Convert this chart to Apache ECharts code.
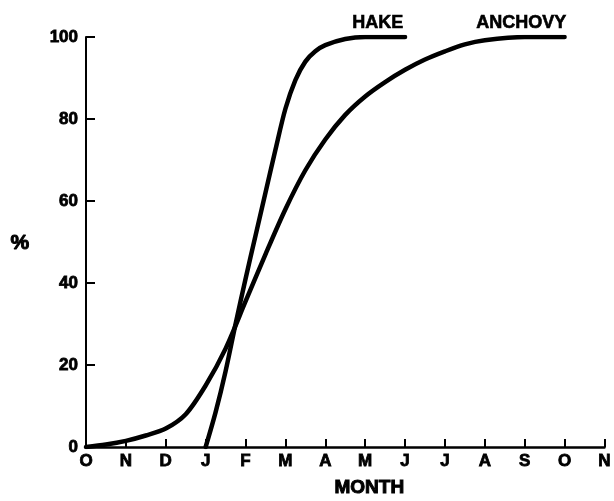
<!DOCTYPE html>
<html>
<head>
<meta charset="utf-8">
<script src="https://cdn.jsdelivr.net/npm/echarts@6/dist/echarts.min.js"></script>
<style>
  html, body { margin: 0; padding: 0; background: #fff; }
  #chart { width: 614px; height: 501px; }
</style>
</head>
<body>
<div id="chart"></div>
<script>
// Month ticks, starting in October (0) and running to the following November (13)
const monthLabels = ['O', 'N', 'D', 'J', 'F', 'M', 'A', 'M', 'J', 'J', 'A', 'S', 'O', 'N'];
const percentTicks = [0, 20, 40, 60, 80, 100];

// Cumulative percentage, hake (months since October)
const hakeMonth = [3.0, 3.25, 3.5, 3.75, 4.0, 4.25, 4.5, 4.75, 5.0, 5.25, 5.5, 5.75, 6.0, 6.5, 7.0, 8.0];
const hakePct   = [0,   8.5,  18.5, 30,  41,  51.5, 62,  72.5, 82.5, 89.5, 94, 96.5, 98, 99.5, 100, 100];

// Cumulative percentage, anchovy
const anchovyMonth = [0, 0.5, 1, 1.5, 2, 2.5, 3, 3.5, 4, 4.5, 5, 5.5, 6, 6.5, 7, 7.5, 8, 8.5, 9, 9.5, 10, 11, 12];
const anchovyPct   = [0, 0.6, 1.5, 2.8, 4.5, 8, 15, 24, 35.5, 47, 58, 67.5, 75, 81, 85.5, 89, 92, 94.5, 96.5, 98.2, 99.2, 100, 100];

const pairs = (xs, ys) => xs.map((x, i) => [x, ys[i]]);

const FONT = '"Liberation Sans", Arial, sans-serif';
const INK = '#000';

// shared lettering style: bold, slightly thickened with a thin outline
const lettering = (size) => ({
  color: INK,
  fontFamily: FONT,
  fontWeight: 'bold',
  fontSize: size,
  textBorderColor: INK,
  textBorderWidth: 0.8
});

const chart = echarts.init(document.getElementById('chart'), null, { renderer: 'canvas' });

chart.setOption({
  backgroundColor: '#fff',
  animation: false,
  grid: { left: 86, right: 4, top: 37, bottom: 54 },
  xAxis: {
    type: 'value',
    min: 0,
    max: monthLabels.length - 1,
    interval: 1,
    axisLine: { lineStyle: { color: INK, width: 2.5 } },
    axisTick: { inside: true, length: 8, lineStyle: { color: INK, width: 2 } },
    splitLine: { show: false },
    axisLabel: Object.assign({
      margin: 6,
      formatter: v => monthLabels[Math.round(v)] ?? ''
    }, lettering(17))
  },
  yAxis: {
    type: 'value',
    min: 0,
    max: 100,
    interval: 20,
    axisLine: { show: true, lineStyle: { color: INK, width: 2 } },
    axisTick: { show: true, inside: true, length: 9, lineStyle: { color: INK, width: 2 } },
    splitLine: { show: false },
    axisLabel: Object.assign({
      margin: 8,
      formatter: v => (percentTicks.includes(v) ? String(v) : '')
    }, lettering(17))
  },
  graphic: [
    { type: 'text', left: 10, top: 232, style: { text: '%', fill: INK, stroke: INK, lineWidth: 1, font: 'bold 21px ' + FONT } },
    { type: 'text', left: 334, top: 478, style: { text: 'MONTH', fill: INK, stroke: INK, lineWidth: 1, font: 'bold 19px ' + FONT } },
    { type: 'text', left: 352, top: 14, style: { text: 'HAKE', fill: INK, stroke: INK, lineWidth: 0.6, font: 'bold 18px ' + FONT } },
    { type: 'text', left: 476, top: 14, style: { text: 'ANCHOVY', fill: INK, stroke: INK, lineWidth: 0.6, font: 'bold 18px ' + FONT } }
  ],
  series: [
    {
      name: 'HAKE',
      type: 'line',
      data: pairs(hakeMonth, hakePct),
      smooth: 0.3,
      showSymbol: false,
      lineStyle: { color: INK, width: 4.5, cap: 'round', join: 'round' }
    },
    {
      name: 'ANCHOVY',
      type: 'line',
      data: pairs(anchovyMonth, anchovyPct),
      smooth: 0.3,
      showSymbol: false,
      lineStyle: { color: INK, width: 4.5, cap: 'round', join: 'round' }
    }
  ]
});
</script>
</body>
</html>
